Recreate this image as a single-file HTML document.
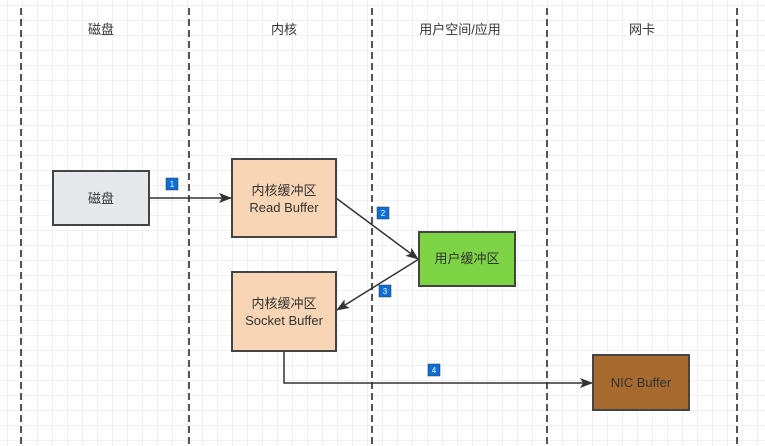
<!DOCTYPE html>
<html><head><meta charset="utf-8"><style>
body{margin:0;width:765px;height:446px;overflow:hidden;background:#fff;
background-image:linear-gradient(#f0f0f0 1px,transparent 1px),linear-gradient(90deg,#f0f0f0 1px,transparent 1px);
background-size:15px 15px;background-position:0 5px,7px 0;}
</style></head><body>
<svg width="765" height="446" style="position:absolute;left:0;top:0" font-family="Liberation Sans, Noto Sans CJK SC, sans-serif">
<defs><marker id="a" markerWidth="13" markerHeight="10" refX="12" refY="5" orient="auto" markerUnits="userSpaceOnUse"><path d="M0,0 L13,5 L0,10 L3,5 z" fill="#333"/></marker></defs>
<g stroke="#555" stroke-width="2" stroke-dasharray="7,4">
<line x1="21" y1="8" x2="21" y2="446"/><line x1="189" y1="8" x2="189" y2="446"/>
<line x1="372" y1="8" x2="372" y2="446"/><line x1="547" y1="8" x2="547" y2="446"/>
<line x1="737" y1="8" x2="737" y2="446"/></g>
<g font-size="13" fill="#333" text-anchor="middle">
<text x="101" y="34">磁盘</text><text x="284" y="34">内核</text>
<text x="460" y="34">用户空间/应用</text><text x="642" y="34">网卡</text></g>
<g stroke="#333" stroke-width="1.5" fill="none">
<line x1="149" y1="198" x2="231" y2="198" marker-end="url(#a)"/>
<line x1="336" y1="198" x2="418" y2="259" marker-end="url(#a)"/>
<line x1="419" y1="259" x2="337" y2="310" marker-end="url(#a)"/>
<polyline points="284,351 284,383 592,383" marker-end="url(#a)"/></g>
<g stroke="#444" stroke-width="2">
<rect x="53" y="171" width="96" height="54" fill="#e6e9ec"/>
<rect x="232" y="159" width="104" height="78" fill="#f8d5b5"/>
<rect x="419" y="232" width="96" height="54" fill="#7dd444"/>
<rect x="232" y="272" width="104" height="79" fill="#f8d5b5"/>
<rect x="593" y="355" width="96" height="55" fill="#a66a2e"/></g>
<g font-size="13" fill="#333" text-anchor="middle">
<text x="101" y="203">磁盘</text>
<text x="284" y="195">内核缓冲区</text><text x="284" y="212">Read Buffer</text>
<text x="467" y="263">用户缓冲区</text>
<text x="284" y="308">内核缓冲区</text><text x="284" y="325">Socket Buffer</text>
<text x="641" y="387">NIC Buffer</text></g>
<g stroke="#333" stroke-width="0.5" fill="#0a6fd6">
<rect x="166" y="178" width="12" height="12"/><rect x="377" y="207" width="12" height="12"/>
<rect x="379" y="285" width="12" height="12"/><rect x="428" y="364" width="12" height="12"/></g>
<g font-size="8" fill="#fff" text-anchor="middle">
<text x="172" y="187">1</text><text x="383" y="216">2</text><text x="385" y="294">3</text><text x="434" y="373">4</text></g>
</svg>
</body></html>
